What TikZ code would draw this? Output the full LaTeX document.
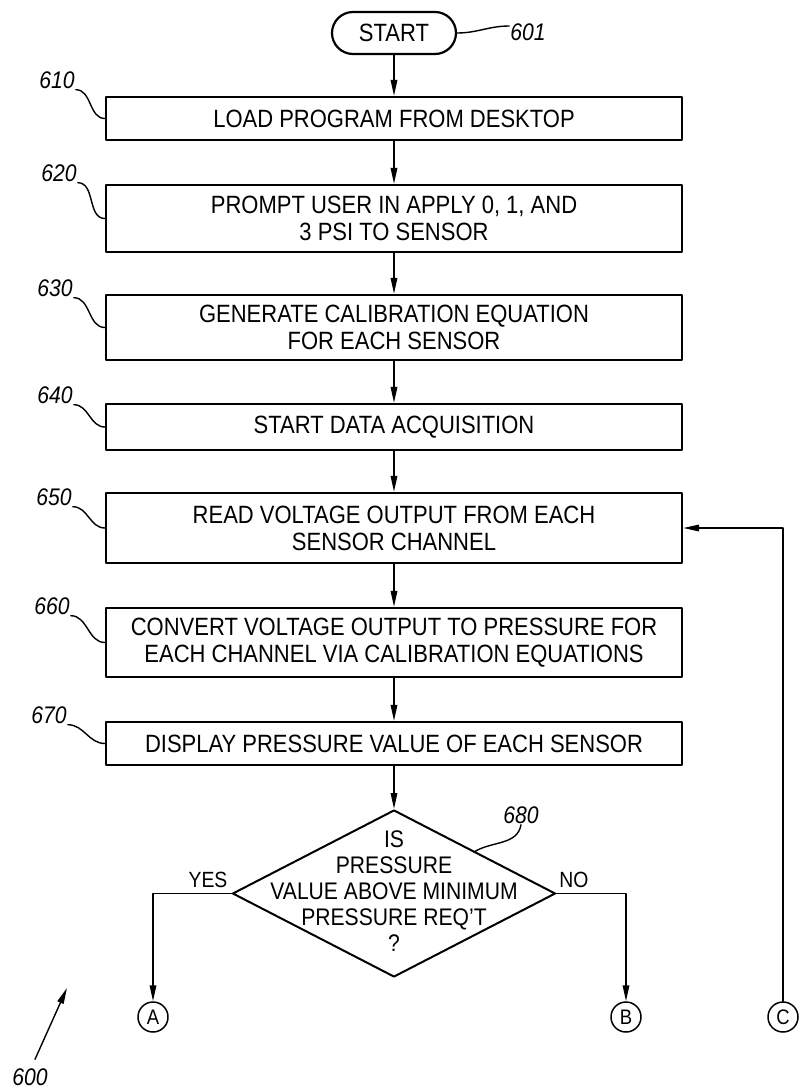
\documentclass[tikz,border=0pt]{standalone}
\usepackage{fontspec}
\setmainfont{Liberation Sans}[FakeStretch=0.88]
\usetikzlibrary{arrows.meta,shapes.geometric}
\begin{document}
\begin{tikzpicture}[x=1pt, y=-1pt, line join=round, line cap=round,
		>={Triangle[length=16pt,width=6.5pt]}, font=\fontsize{25}{27}\selectfont,
		stepbox/.style={draw, line width=2.2pt, minimum width=576pt, align=center, inner sep=0pt},
		terminal/.style={draw, line width=2.2pt, rounded corners=21pt, minimum width=124pt, minimum height=42pt, inner sep=0pt},
		decision/.style={draw, diamond, line width=2pt, minimum width=323pt, minimum height=167pt, inner sep=0pt},
		connector/.style={draw, circle, line width=1.5pt, minimum size=30pt, inner sep=0pt, font=\fontsize{21}{21}\selectfont},
		ref/.style={font=\fontsize{24}{24}\selectfont\itshape, inner sep=1pt},
		flag/.style={font=\fontsize{22}{22}\selectfont, inner sep=0pt},
		flow/.style={->, line width=1.7pt},
		leader/.style={line width=1.4pt}]
	\useasboundingbox (0,0) rectangle (800,1090);
	
	\node[terminal] (start) at (394,33) {START};
	\node[stepbox, minimum height=43pt] (b610) at (394,118.5) {LOAD PROGRAM FROM DESKTOP};
	\node[stepbox, minimum height=67pt] (b620) at (394,218.5) {PROMPT USER IN APPLY 0, 1, AND\\3 PSI TO SENSOR};
	\node[stepbox, minimum height=65pt] (b630) at (394,327.5) {GENERATE CALIBRATION EQUATION\\FOR EACH SENSOR};
	\node[stepbox, minimum height=46pt] (b640) at (394,427) {START DATA ACQUISITION};
	\node[stepbox, minimum height=70pt] (b650) at (394,528) {READ VOLTAGE OUTPUT FROM EACH\\SENSOR CHANNEL};
	\node[stepbox, minimum height=69pt] (b660) at (394,642.5) {CONVERT VOLTAGE OUTPUT TO PRESSURE FOR\\EACH CHANNEL VIA CALIBRATION EQUATIONS};
	\node[stepbox, minimum height=43pt] (b670) at (394,743.5) {DISPLAY PRESSURE VALUE OF EACH SENSOR};
	\node[decision] (d680) at (394,893.5) {};
	\node[align=center, font=\fontsize{24}{26}\selectfont] (q680) at (394,891) {IS\\PRESSURE\\VALUE ABOVE MINIMUM\\PRESSURE REQ'T\\?};
	
	\node[connector] (A) at (153,1017) {A};
	\node[connector] (B) at (626,1017) {B};
	\node[connector] (C) at (783,1017) {C};
	\node[flag] (yes) at (208,880) {YES};
	\node[flag] (no) at (574,880) {NO};
	
	% main flow
	\foreach \a/\b in {start/b610, b610/b620, b620/b630, b630/b640, b640/b650, b650/b660, b660/b670, b670/d680}
	\draw[flow] (\a) -- (\b);
	\draw[flow] (d680.west) -| (A);
	\draw[flow] (d680.east) -| (B);
	\draw[flow] (C) |- (b650.east);
	
	% reference numerals
	\node[ref] (l601) at (528,32) {601};
	\draw[leader] (start.east) to[out=0, in=180] ([yshift=6pt]l601.west);
	\foreach \n/\x/\y in {610/57/80, 620/59/173, 630/55/288, 640/55/395, 650/54/497, 660/52/606, 670/49/715}{
		\node[ref] (l\n) at (\x,\y) {\n};
		\draw[leader] (l\n.south east) to[out=0, in=180] (b\n.west);
	}
	\node[ref] (l680) at (521,815) {680};
	\draw[leader] (l680.south) to[out=-100, in=30] (d680.north east);
	\node[ref] (l600) at (30,1077) {600};
	\coordinate (p600) at (67,988);
	\draw[flow, line width=1.4pt] ([xshift=5pt, yshift=8pt]l600.north) -- (p600);
\end{tikzpicture}
\end{document}
